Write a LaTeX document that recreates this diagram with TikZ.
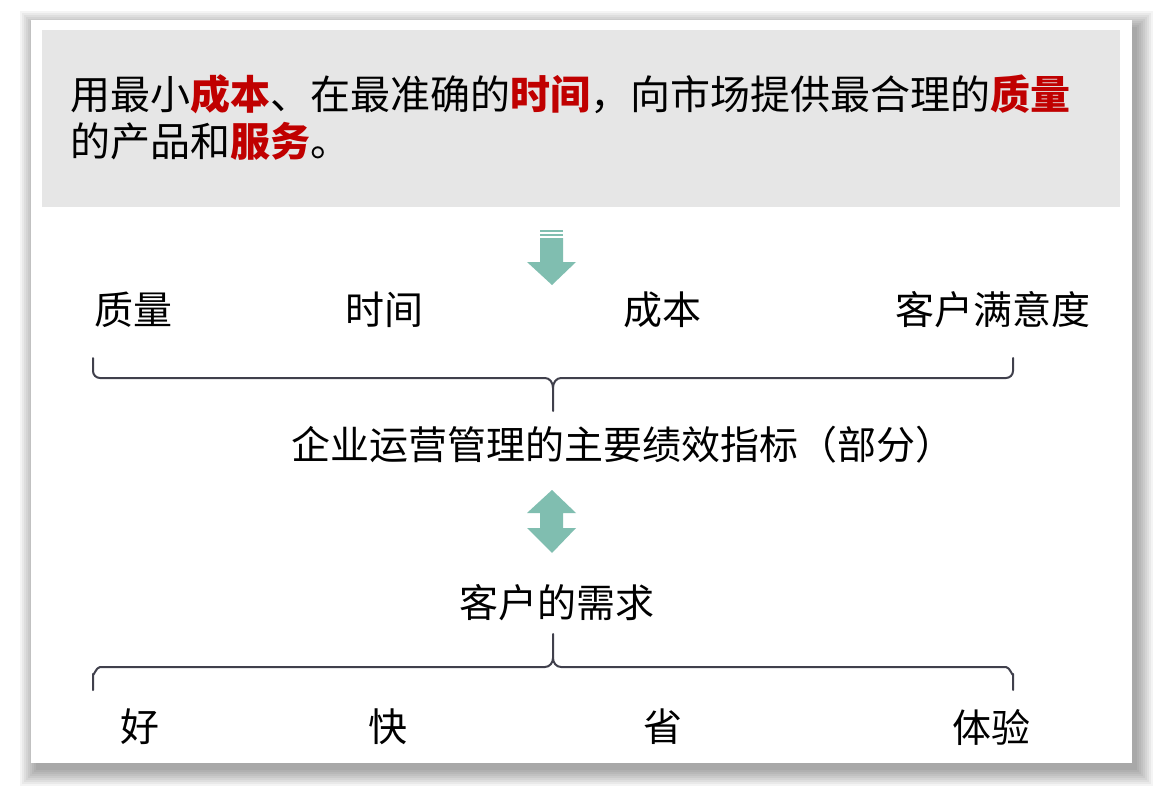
\documentclass[tikz,border=0pt]{standalone}
\usepackage{fontspec}
\setmainfont{Noto Sans CJK SC}
\definecolor{boxgray}{RGB}{230,230,230}
\definecolor{keyred}{RGB}{192,0,0}
\definecolor{arrowteal}{RGB}{128,190,176}
\definecolor{bracegray}{RGB}{64,64,76}
\begin{document}
\begin{tikzpicture}[x=1pt,y=-1pt,
  lbl/.style={inner sep=0pt,anchor=center,font=\fontsize{39}{45}\selectfont},
  brace/.style={draw=bracegray,line width=2pt,line cap=round,line join=round}]
\useasboundingbox (0,0) rectangle (1163,800);
\fill[white] (0,0) rectangle (1163,800);
% shadow
\foreach \r in {0,2,...,16}
  \fill[black,opacity=0.045] (31+5-\r,20+7-\r) rectangle (1132+5+\r,763+7+\r);
% page
\fill[white] (31,20) rectangle (1132,763);
% gray box
\fill[boxgray] (42,30) rectangle (1120,207);
\node[anchor=base west,inner sep=0pt,align=left,font=\fontsize{40}{47}\selectfont] (intro) at (70,156)
 {用最小\textcolor{keyred}{\bfseries 成本}、在最准确的\textcolor{keyred}{\bfseries 时间}，向市场提供最合理的\textcolor{keyred}{\bfseries 质量}\\
  的产品和\textcolor{keyred}{\bfseries 服务}。};
% down arrow
\fill[arrowteal] (540,230) rectangle (563,232);
\fill[arrowteal] (540,234) rectangle (563,236);
\fill[arrowteal] (540,238) -- (563,238) -- (563,262) -- (576,262) -- (552,285) -- (527,262) -- (540,262) -- cycle;
% labels row 1
\node[lbl] (q) at (133.5,310) {质量};
\node[lbl] (t) at (384.5,310) {时间};
\node[lbl] (c) at (662,310) {成本};
\node[lbl] (s) at (993,310) {客户满意度};
% brace 1
\draw[brace] (93,358) -- (93,371) to[out=-90,in=180] (100,378) -- (545,378) to[out=0,in=90] (553,388) -- (553,411);
\draw[brace] (553,388) to[out=90,in=180] (561,378) -- (1006,378) to[out=0,in=-90] (1013,371) -- (1013,358);
\node[lbl] (kpi) at (622.5,445) {企业运营管理的主要绩效指标（部分）};
% double arrow
\fill[arrowteal] (552,490) -- (576,513) -- (563,513) -- (563,528) -- (576,528) -- (552,553) -- (527,528) -- (540,528) -- (540,513) -- (527,513) -- cycle;
\node[lbl] (need) at (556.5,603) {客户的需求};
% brace 2
\draw[brace] (93,690) -- (93,674) to[out=-90,in=180] (100,667) -- (545,667) to[out=0,in=-90] (553,658) -- (553,634);
\draw[brace] (553,658) to[out=-90,in=180] (561,667) -- (1006,667) to[out=0,in=-90] (1013,674) -- (1013,690);
\node[lbl] (good) at (140,727) {好};
\node[lbl] (fast) at (388,727) {快};
\node[lbl] (save) at (663,727) {省};
\node[lbl] (exp) at (991.5,727) {体验};
\end{tikzpicture}
\end{document}
